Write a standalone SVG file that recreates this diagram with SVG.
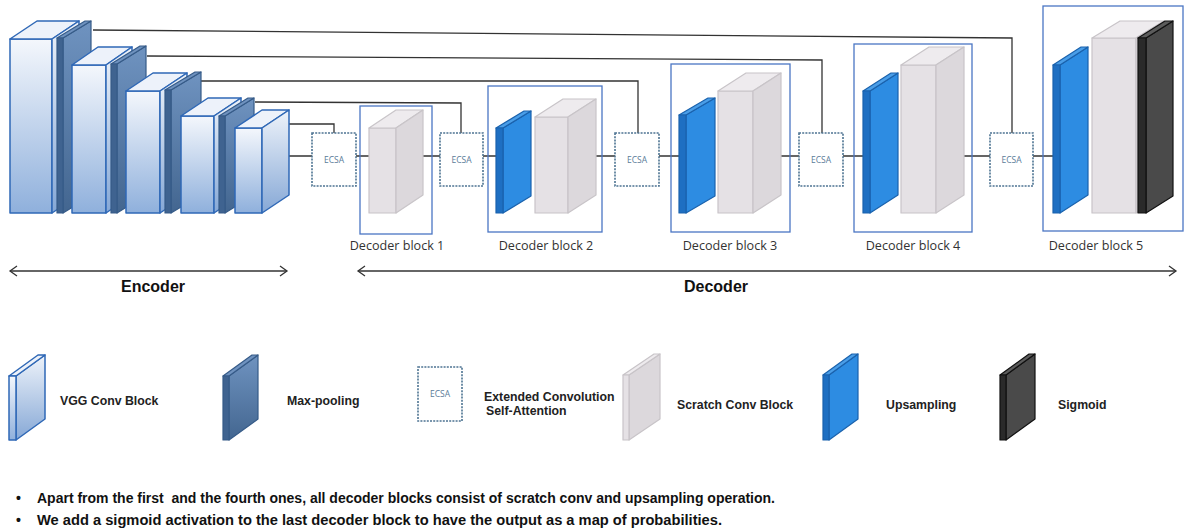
<svg xmlns="http://www.w3.org/2000/svg" width="1186" height="532" viewBox="0 0 1186 532">
  <defs>
    <linearGradient id="gVgg" x1="0" y1="0" x2="0" y2="1">
      <stop offset="0" stop-color="#f4f7fc"/>
      <stop offset="1" stop-color="#8fb0dc"/>
    </linearGradient>
    <linearGradient id="gVggSide" x1="0" y1="0" x2="0" y2="1">
      <stop offset="0" stop-color="#eef3fa"/>
      <stop offset="1" stop-color="#86a8d6"/>
    </linearGradient>
    <linearGradient id="gPool" x1="0" y1="0" x2="0" y2="1">
      <stop offset="0" stop-color="#6f93c0"/>
      <stop offset="1" stop-color="#436690"/>
    </linearGradient>
    <marker id="chev" viewBox="-8 -6 10 12" markerWidth="10" markerHeight="12" refX="0" refY="0" orient="auto-start-reverse" markerUnits="userSpaceOnUse">
      <path d="M-7,-5 L0,0 L-7,5" fill="none" stroke="#333" stroke-width="1.3"/>
    </marker>
  </defs>
  <style>
    .vf{fill:url(#gVgg);stroke:#2f68b6;stroke-width:1.5;stroke-linejoin:round}
    .vt{fill:#edf2fa;stroke:#2f68b6;stroke-width:1.5;stroke-linejoin:round}
    .vs{fill:url(#gVggSide);stroke:#2f68b6;stroke-width:1.5;stroke-linejoin:round}
    .pf{fill:#3f6390;stroke:#365b88;stroke-width:1.2;stroke-linejoin:round}
    .pt{fill:#6f92bf;stroke:#365b88;stroke-width:1.2;stroke-linejoin:round}
    .ps{fill:url(#gPool);stroke:#365b88;stroke-width:1.2;stroke-linejoin:round}
    .sf{fill:#e5e1e5;stroke:#c8c4c8;stroke-width:1.2;stroke-linejoin:round}
    .st{fill:#eeebee;stroke:#c8c4c8;stroke-width:1.2;stroke-linejoin:round}
    .ss{fill:#dcd8dc;stroke:#c8c4c8;stroke-width:1.2;stroke-linejoin:round}
    .uf{fill:#1e6fc2;stroke:#1a62ad;stroke-width:1.2;stroke-linejoin:round}
    .ut{fill:#4a9ee8;stroke:#1a62ad;stroke-width:1.2;stroke-linejoin:round}
    .us{fill:#2d8ce2;stroke:#1a62ad;stroke-width:1.2;stroke-linejoin:round}
    .gf{fill:#2a2a2a;stroke:#111;stroke-width:1.2;stroke-linejoin:round}
    .gt{fill:#5c5c5c;stroke:#111;stroke-width:1.2;stroke-linejoin:round}
    .gs{fill:#4a4a4a;stroke:#111;stroke-width:1.2;stroke-linejoin:round}
    .ecsa{fill:#ffffff;stroke:#4d7392;stroke-width:1.6;stroke-dasharray:2 1.2}
    .ecsaT{font-family:"Open Sans","DejaVu Sans",sans-serif;font-size:8.5px;fill:#5a7b98;text-anchor:middle}
    .dbox{fill:none;stroke:#4a76c4;stroke-width:1.3}
    .dlab{font-family:"Open Sans","DejaVu Sans",sans-serif;font-size:12.6px;fill:#333;text-anchor:middle}
    .wire{fill:none;stroke:#333;stroke-width:1.3}
    .span{fill:none;stroke:#333;stroke-width:1.6}
    .big{font-family:"Liberation Sans Narrow","Liberation Sans",Arial,sans-serif;font-weight:bold;font-size:16px;fill:#111;text-anchor:middle}
    .leg{font-family:"Liberation Sans",Arial,sans-serif;font-weight:bold;font-size:12.3px;fill:#222}
    .note{font-family:"Liberation Sans Narrow","Liberation Sans",Arial,sans-serif;font-weight:bold;font-size:14px;fill:#111;white-space:pre}
  </style>

  <rect width="1186" height="532" fill="#ffffff"/>

  <!-- connectors: main path, skip links, span arrows -->
  <g id="connectors">
    <path class="wire" d="M289,156 H312 M356,156 H369 M420,156 H440 M483,156 H496 M595,156 H615 M659,156 H679 M778,156 H799 M843,156 H863 M962,156 H990 M1033,156 H1053"/>
    <polyline class="wire" points="93,30 1012,38 1012,133"/>
    <polyline class="wire" points="147,56 822,60 822,133"/>
    <polyline class="wire" points="201,81 638,81 638,133"/>
    <polyline class="wire" points="255,102 461,103 461,133"/>
    <polyline class="wire" points="289,124 334,124 334,133"/>
    <line class="span" x1="10" y1="271" x2="287" y2="271" marker-start="url(#chev)" marker-end="url(#chev)"/>
    <line class="span" x1="358" y1="271" x2="1176" y2="271" marker-start="url(#chev)" marker-end="url(#chev)"/>
  </g>

  <!-- encoder: VGG conv blocks with max-pooling slabs -->
  <g id="vgg1">
    <rect class="vf" x="10" y="39" width="42" height="174"/>
    <polygon class="vt" points="10,39 37,21 79,21 52,39"/>
    <polygon class="vs" points="52,39 79,21 79,195 52,213"/>
  </g>
  <g id="pool1">
    <polygon class="ps" points="63,38 91,21 91,196 63,213"/>
    <polygon class="pt" points="57,38 85,21 91,21 63,38"/>
    <rect class="pf" x="57" y="38" width="6" height="175"/>
  </g>
  <g id="vgg2">
    <rect class="vf" x="72" y="65" width="34" height="148"/>
    <polygon class="vt" points="72,65 98,47 132,47 106,65"/>
    <polygon class="vs" points="106,65 132,47 132,195 106,213"/>
  </g>
  <g id="pool2">
    <polygon class="ps" points="117,64 146,46 146,195 117,213"/>
    <polygon class="pt" points="111,64 140,46 146,46 117,64"/>
    <rect class="pf" x="111" y="64" width="6" height="149"/>
  </g>
  <g id="vgg3">
    <rect class="vf" x="126" y="91" width="34" height="122"/>
    <polygon class="vt" points="126,91 153,73 187,73 160,91"/>
    <polygon class="vs" points="160,91 187,73 187,195 160,213"/>
  </g>
  <g id="pool3">
    <polygon class="ps" points="171,90 201,72 201,195 171,213"/>
    <polygon class="pt" points="165,90 195,72 201,72 171,90"/>
    <rect class="pf" x="165" y="90" width="6" height="123"/>
  </g>
  <g id="vgg4">
    <rect class="vf" x="181" y="116" width="33" height="97"/>
    <polygon class="vt" points="181,116 208,98 241,98 214,116"/>
    <polygon class="vs" points="214,116 241,98 241,195 214,213"/>
  </g>
  <g id="pool4">
    <polygon class="ps" points="225,116 254,98 254,195 225,213"/>
    <polygon class="pt" points="219,116 248,98 254,98 225,116"/>
    <rect class="pf" x="219" y="116" width="6" height="97"/>
  </g>
  <g id="vgg5">
    <rect class="vf" x="235" y="128" width="27" height="85"/>
    <polygon class="vt" points="235,128 262,110 289,110 262,128"/>
    <polygon class="vs" points="262,128 289,110 289,195 262,213"/>
  </g>

  <!-- attention modules -->
  <g id="ecsa1"><rect class="ecsa" x="312" y="133" width="44" height="53"/><text class="ecsaT" x="334" y="162.5">ECSA</text></g>
  <g id="ecsa2"><rect class="ecsa" x="440" y="133" width="43" height="53"/><text class="ecsaT" x="461.5" y="162.5">ECSA</text></g>
  <g id="ecsa3"><rect class="ecsa" x="615" y="133" width="44" height="53"/><text class="ecsaT" x="637" y="162.5">ECSA</text></g>
  <g id="ecsa4"><rect class="ecsa" x="799" y="133" width="44" height="53"/><text class="ecsaT" x="821" y="162.5">ECSA</text></g>
  <g id="ecsa5"><rect class="ecsa" x="990" y="133" width="43" height="53"/><text class="ecsaT" x="1011.5" y="162.5">ECSA</text></g>

  <!-- decoder blocks -->
  <g id="dec1">
    <rect class="dbox" x="360" y="106" width="72" height="128"/>
    <rect class="sf" x="369" y="128" width="27" height="85"/>
    <polygon class="st" points="369,128 396,110 423,110 396,128"/>
    <polygon class="ss" points="396,128 423,110 423,195 396,213"/>
    <text class="dlab" x="397" y="250">Decoder block 1</text>
  </g>
  <g id="dec2">
    <rect class="dbox" x="488" y="86" width="114" height="146"/>
    <polygon class="us" points="503,128 531,111 531,196 503,213"/>
    <polygon class="ut" points="496,128 524,111 531,111 503,128"/>
    <rect class="uf" x="496" y="128" width="7" height="85"/>
    <rect class="sf" x="535" y="117" width="33" height="96"/>
    <polygon class="st" points="535,117 563,99 596,99 568,117"/>
    <polygon class="ss" points="568,117 596,99 596,195 568,213"/>
    <text class="dlab" x="546" y="250">Decoder block 2</text>
  </g>
  <g id="dec3">
    <rect class="dbox" x="671" y="64" width="119" height="168"/>
    <polygon class="us" points="686,115 715,98 715,196 686,213"/>
    <polygon class="ut" points="679,115 708,98 715,98 686,115"/>
    <rect class="uf" x="679" y="115" width="7" height="98"/>
    <rect class="sf" x="718" y="91" width="35" height="122"/>
    <polygon class="st" points="718,91 746,73 781,73 753,91"/>
    <polygon class="ss" points="753,91 781,73 781,195 753,213"/>
    <text class="dlab" x="730" y="250">Decoder block 3</text>
  </g>
  <g id="dec4">
    <rect class="dbox" x="854" y="44" width="118" height="188"/>
    <polygon class="us" points="870,91 898,73 898,195 870,213"/>
    <polygon class="ut" points="863,91 891,73 898,73 870,91"/>
    <rect class="uf" x="863" y="91" width="7" height="122"/>
    <rect class="sf" x="901" y="65" width="35" height="148"/>
    <polygon class="st" points="901,65 929,47 964,47 936,65"/>
    <polygon class="ss" points="936,65 964,47 964,195 936,213"/>
    <text class="dlab" x="913" y="250">Decoder block 4</text>
  </g>
  <g id="dec5">
    <rect class="dbox" x="1043" y="6" width="140" height="225"/>
    <polygon class="us" points="1060,65 1088,47 1088,195 1060,213"/>
    <polygon class="ut" points="1053,65 1081,47 1088,47 1060,65"/>
    <rect class="uf" x="1053" y="65" width="7" height="148"/>
    <rect class="sf" x="1092" y="38" width="44" height="175"/>
    <polygon class="st" points="1092,38 1120,21 1164,21 1136,38"/>
    <polygon class="ss" points="1136,38 1164,21 1164,196 1136,213"/>
    <polygon class="gs" points="1146,38 1173,21 1173,196 1146,213"/>
    <polygon class="gt" points="1138,38 1165,21 1173,21 1146,38"/>
    <rect class="gf" x="1138" y="38" width="8" height="175"/>
    <text class="dlab" x="1096" y="250">Decoder block 5</text>
  </g>

  <!-- section captions -->
  <g id="captions">
    <text class="big" x="153" y="292">Encoder</text>
    <text class="big" x="716" y="292">Decoder</text>
  </g>

  <!-- legend -->
  <g id="legend-vgg">
    <polygon class="vs" points="16,376 45,355 45,419 16,440"/>
    <polygon class="vt" points="9,376 38,355 45,355 16,376"/>
    <rect class="vf" x="9" y="376" width="7" height="64"/>
    <text class="leg" x="60" y="405">VGG Conv Block</text>
  </g>
  <g id="legend-pool">
    <polygon class="ps" points="229,376 258,355 258,419 229,440"/>
    <polygon class="pt" points="223,376 252,355 258,355 229,376"/>
    <rect class="pf" x="223" y="376" width="6" height="64"/>
    <text class="leg" x="287" y="405">Max-pooling</text>
  </g>
  <g id="legend-ecsa">
    <rect class="ecsa" x="418" y="367" width="44" height="54"/>
    <text class="ecsaT" x="440" y="397">ECSA</text>
    <text class="leg" x="484" y="401">Extended Convolution</text>
    <text class="leg" x="486" y="415">Self-Attention</text>
  </g>
  <g id="legend-scratch">
    <polygon class="ss" points="629,375 660,354 660,419 629,440"/>
    <polygon class="st" points="623,375 654,354 660,354 629,375"/>
    <rect class="sf" x="623" y="375" width="6" height="65"/>
    <text class="leg" x="677" y="409">Scratch Conv Block</text>
  </g>
  <g id="legend-up">
    <polygon class="us" points="829,375 858,354 858,419 829,440"/>
    <polygon class="ut" points="823,375 852,354 858,354 829,375"/>
    <rect class="uf" x="823" y="375" width="6" height="65"/>
    <text class="leg" x="886" y="409">Upsampling</text>
  </g>
  <g id="legend-sig">
    <polygon class="gs" points="1006,375 1035,354 1035,419 1006,440"/>
    <polygon class="gt" points="1000,375 1029,354 1035,354 1006,375"/>
    <rect class="gf" x="1000" y="375" width="6" height="65"/>
    <text class="leg" x="1058" y="409">Sigmoid</text>
  </g>

  <!-- notes -->
  <g id="notes">
    <text class="note" x="16" y="503">•</text>
    <text class="note" x="37" y="503" textLength="738" lengthAdjust="spacingAndGlyphs">Apart from the first  and the fourth ones, all decoder blocks consist of scratch conv and upsampling operation.</text>
    <text class="note" x="16" y="525">•</text>
    <text class="note" x="37" y="525" textLength="685" lengthAdjust="spacingAndGlyphs">We add a sigmoid activation to the last decoder block to have the output as a map of probabilities.</text>
  </g>
</svg>
